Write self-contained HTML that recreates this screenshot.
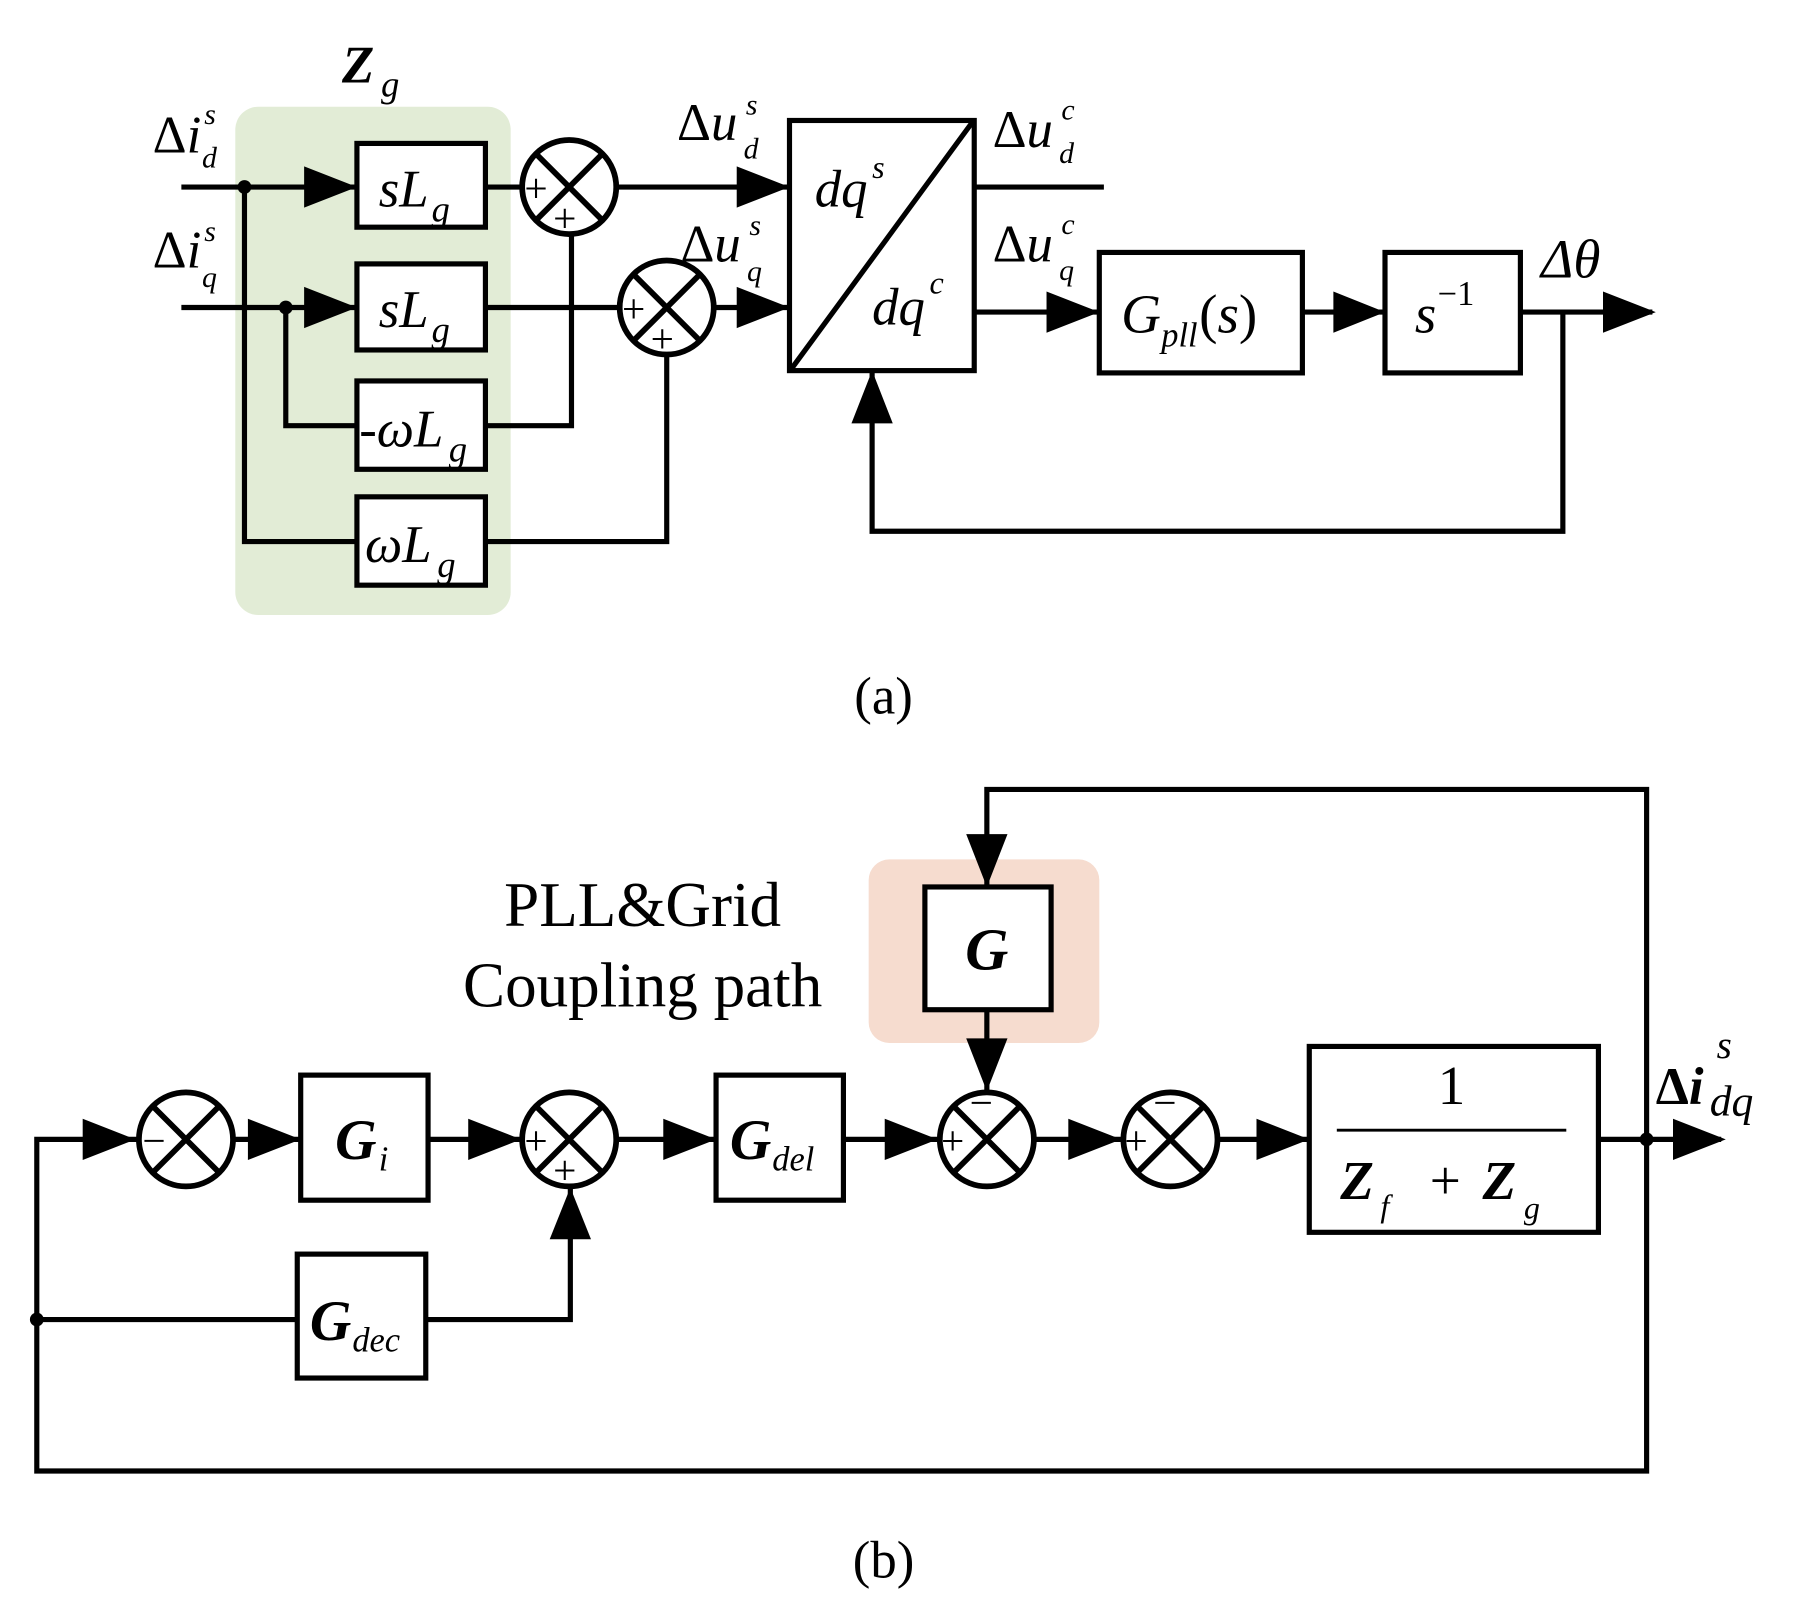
<!DOCTYPE html>
<html><head><meta charset="utf-8"><style>
html,body{margin:0;padding:0;background:#fff}
svg{display:block}
text{font-family:"Liberation Serif",serif;fill:#000}
.it{font-style:italic}
.b{font-weight:bold}
</style></head><body>
<svg width="1797" height="1619" viewBox="0 0 1566 1411" xmlns="http://www.w3.org/2000/svg">
<defs>
<g id="sum"><circle r="41" fill="#fff" stroke="#000" stroke-width="5"/><line x1="-29" y1="-29" x2="29" y2="29" stroke="#000" stroke-width="5"/><line x1="29" y1="-29" x2="-29" y2="29" stroke="#000" stroke-width="5"/></g>
</defs>
<rect width="1566" height="1411" fill="#fff"/>
<!-- (a) -->
<rect x="205" y="93" width="240" height="443" rx="20" fill="#e2ecd6"/>
<text x="298" y="72" font-size="46" class="it b">Z</text><text x="332" y="84" font-size="32" class="it">g</text>
<text x="133" y="133" font-size="46">Δ<tspan class="it">i</tspan></text><text x="178" y="108" font-size="26" class="it">s</text><text x="176" y="146" font-size="26" class="it">d</text>
<text x="133" y="233" font-size="46">Δ<tspan class="it">i</tspan></text><text x="178" y="210" font-size="26" class="it">s</text><text x="176" y="250" font-size="26" class="it">q</text>
<g stroke="#000" stroke-width="4.5" fill="none">
<path d="M158 163H311M158 268H311M213 163V472H311M249 268V371H311"/>
<path d="M423 163H455M423 371H498V204M423 268H540M423 472H581V309M537 163H688M622 268H688"/>
<path d="M849 163H962M849 272H958M1135 272H1207M1325 272H1440M1362 272V463H760V323"/>
</g>
<circle cx="213" cy="163" r="6"/><circle cx="249" cy="268" r="6"/>
<g fill="#000">
<path d="M265 145L311 163L265 181Z"/><path d="M265 250L311 268L265 286Z"/>
<path d="M642 145L688 163L642 181Z"/><path d="M642 250L688 268L642 286Z"/>
<path d="M912 254L958 272L912 290Z"/><path d="M1162 254L1207 272L1162 290Z"/>
<path d="M1397 254L1443 272L1397 290Z"/><path d="M742 369L760 323L778 369Z"/>
</g>
<g fill="#fff" stroke="#000" stroke-width="4.5">
<rect x="311" y="125" width="112" height="73"/><rect x="311" y="230" width="112" height="75"/>
<rect x="311" y="332" width="112" height="77"/><rect x="311" y="433" width="112" height="77"/>
<rect x="688" y="105" width="161" height="218"/>
<rect x="958" y="220" width="177" height="105"/><rect x="1207" y="220" width="118" height="105"/>
</g>
<line x1="690" y1="321" x2="847" y2="107" stroke="#000" stroke-width="4.5"/>
<text x="330" y="180" font-size="46" class="it">sL</text><text x="376" y="193" font-size="32" class="it">g</text>
<text x="313" y="389" font-size="46" class="it">-ωL</text><text x="391" y="402" font-size="32" class="it">g</text>
<text x="330" y="285" font-size="46" class="it">sL</text><text x="376" y="298" font-size="32" class="it">g</text>
<text x="318" y="490" font-size="46" class="it">ωL</text><text x="381" y="503" font-size="32" class="it">g</text>
<use href="#sum" x="496" y="163"/><use href="#sum" x="581" y="268"/>
<text x="457" y="176" font-size="36">+</text><text x="482" y="202" font-size="36">+</text>
<text x="542" y="281" font-size="36">+</text><text x="567" y="307" font-size="36">+</text>
<text x="590" y="122" font-size="46">Δ<tspan class="it">u</tspan></text><text x="650" y="100" font-size="26" class="it">s</text><text x="648" y="138" font-size="26" class="it">d</text>
<text x="593" y="228" font-size="46">Δ<tspan class="it">u</tspan></text><text x="653" y="205" font-size="26" class="it">s</text><text x="651" y="245" font-size="26" class="it">q</text>
<text x="865" y="128" font-size="46">Δ<tspan class="it">u</tspan></text><text x="925" y="104" font-size="26" class="it">c</text><text x="923" y="142" font-size="26" class="it">d</text>
<text x="865" y="228" font-size="46">Δ<tspan class="it">u</tspan></text><text x="925" y="204" font-size="26" class="it">c</text><text x="923" y="244" font-size="26" class="it">q</text>
<text x="710" y="180" font-size="46" class="it">dq</text><text x="760" y="155" font-size="28" class="it">s</text>
<text x="760" y="283" font-size="46" class="it">dq</text><text x="810" y="256" font-size="28" class="it">c</text>
<text x="977" y="290" font-size="48" class="it">G</text><text x="1012" y="302" font-size="30" class="it">pll</text><text x="1045" y="290" font-size="48">(<tspan class="it">s</tspan>)</text>
<text x="1233" y="290" font-size="48" class="it">s</text><text x="1253" y="266" font-size="30">−1</text>
<text x="1343" y="242" font-size="48" class="it">Δθ</text>
<text x="770" y="622" font-size="46" text-anchor="middle">(a)</text>
<!-- (b) -->
<rect x="757" y="749" width="201" height="160" rx="18" fill="#f6dccf"/>
<text x="560" y="807" font-size="55" text-anchor="middle">PLL&amp;Grid</text>
<text x="560" y="877" font-size="55" text-anchor="middle">Coupling path</text>
<g stroke="#000" stroke-width="4.5" fill="none">
<path d="M1435 993V688H860V773M860 880V951"/>
<path d="M1435 993V1282H32V993H120M204 993H262M373 993H455M537 993H624M735 993H818M902 993H978M1062 993H1141M1393 993H1500"/>
<path d="M32 1150H259M371 1150H497V1035"/>
</g>
<circle cx="1435" cy="993" r="6"/><circle cx="32" cy="1150" r="6"/>
<g fill="#000">
<path d="M72 975L118 993L72 1011Z"/><path d="M216 975L262 993L216 1011Z"/>
<path d="M408 975L454 993L408 1011Z"/><path d="M578 975L624 993L578 1011Z"/>
<path d="M771 975L817 993L771 1011Z"/><path d="M931 975L977 993L931 1011Z"/>
<path d="M1095 975L1141 993L1095 1011Z"/><path d="M1458 975L1504 993L1458 1011Z"/>
<path d="M479 1080L497 1035L515 1080Z"/>
<path d="M842 727L860 773L878 727Z"/><path d="M842 905L860 951L878 905Z"/>
</g>
<g fill="#fff" stroke="#000" stroke-width="4.5">
<rect x="806" y="773" width="110" height="107"/>
<rect x="262" y="937" width="111" height="109"/><rect x="624" y="937" width="111" height="109"/>
<rect x="259" y="1093" width="112" height="108"/><rect x="1141" y="912" width="252" height="162"/>
</g>
<use href="#sum" x="162" y="993"/><use href="#sum" x="496" y="993"/><use href="#sum" x="860" y="993"/><use href="#sum" x="1020" y="993"/>
<text x="124" y="1006" font-size="36">−</text>
<text x="457" y="1006" font-size="36">+</text><text x="482" y="1032" font-size="36">+</text>
<text x="845" y="973" font-size="36">−</text><text x="820" y="1006" font-size="36">+</text>
<text x="1005" y="973" font-size="36">−</text><text x="980" y="1006" font-size="36">+</text>
<text x="860" y="845" font-size="52" class="it b" text-anchor="middle">G</text>
<text x="292" y="1010" font-size="50" class="it b">G</text><text x="330" y="1020" font-size="30" class="it">i</text>
<text x="636" y="1010" font-size="50" class="it b">G</text><text x="673" y="1020" font-size="30" class="it">del</text>
<text x="270" y="1168" font-size="50" class="it b">G</text><text x="307" y="1178" font-size="30" class="it">dec</text>
<text x="1265" y="962" font-size="48" text-anchor="middle">1</text>
<line x1="1165" y1="985" x2="1365" y2="985" stroke="#000" stroke-width="2.5"/>
<text x="1168" y="1045" font-size="48" class="it b">Z</text><text x="1203" y="1060" font-size="28" class="it">f</text>
<text x="1246" y="1045" font-size="48">+</text><text x="1292" y="1045" font-size="48" class="it b">Z</text><text x="1328" y="1062" font-size="28" class="it">g</text>
<text x="1443" y="962" font-size="46" class="b">Δ<tspan class="it">i</tspan></text><text x="1496" y="922" font-size="34" class="it">s</text><text x="1490" y="972" font-size="38" class="it">dq</text>
<text x="770" y="1375" font-size="46" text-anchor="middle">(b)</text>
</svg>
</body></html>
